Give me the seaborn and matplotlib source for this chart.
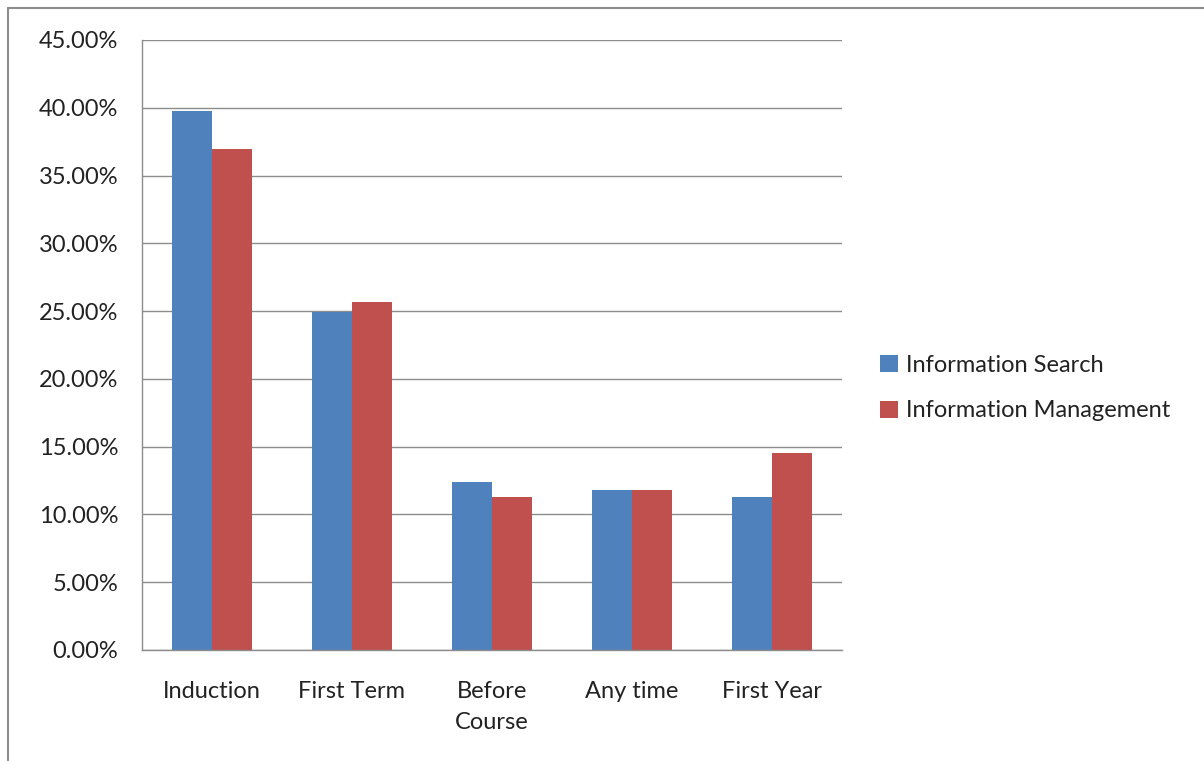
import matplotlib
matplotlib.use("Agg")
import matplotlib.pyplot as plt
import seaborn as sns
import pandas as pd
from matplotlib.ticker import FuncFormatter, FixedLocator
from matplotlib.lines import Line2D

categories = ["Induction", "First Term", "Before\nCourse", "Any time", "First Year"]
series_names = ["Information Search", "Information Management"]
info_search = [39.75, 24.93, 12.39, 11.80, 11.28]
info_mgmt = [36.95, 25.66, 11.28, 11.80, 14.53]
colors = ["#4F81BD", "#C0504D"]

df = pd.DataFrame({
    "category": categories * 2,
    "series": [series_names[0]] * 5 + [series_names[1]] * 5,
    "value": info_search + info_mgmt,
})

sns.set_style("white")
plt.rcParams["font.family"] = ["Lato", "DejaVu Sans"]

fig = plt.figure(figsize=(12.04, 7.61), dpi=100)
W, H = 1204, 761
ax = fig.add_axes([142 / W, 1 - 650 / H, 700 / W, 610 / H])

sns.barplot(data=df, x="category", y="value", hue="series", palette=colors,
            width=80 / 140, saturation=1, ax=ax, legend=True, edgecolor="none")

ax.set_ylim(0, 45)
ax.set_xlim(-0.5, 4.5)
ax.set_yticks([0, 5, 10, 15, 20, 25, 30, 35, 40, 45])
ax.yaxis.set_major_formatter(FuncFormatter(lambda v, p: f"{v:.2f}%"))
ax.grid(axis="y", color="#8C8C8C", linewidth=1.0)
ax.set_axisbelow(True)
ax.set_xlabel("")
ax.set_ylabel("")

for s in ["top", "right"]:
    ax.spines[s].set_visible(False)
for s in ["left", "bottom"]:
    ax.spines[s].set_color("#8C8C8C")
    ax.spines[s].set_linewidth(1.0)

FS = 17
ax.tick_params(axis="y", which="major", length=7, color="#8C8C8C", width=1.0,
               labelsize=FS, labelcolor="#222222", pad=10)
ax.tick_params(axis="x", which="major", length=0, labelsize=FS, labelcolor="#222222", pad=22)
ax.xaxis.set_minor_locator(FixedLocator([-0.5, 0.5, 1.5, 2.5, 3.5, 4.5]))
ax.tick_params(axis="x", which="minor", length=7, color="#8C8C8C", width=1.0, direction="out")
for lbl in ax.get_xticklabels():
    lbl.set_linespacing(1.6)
    lbl.set_va("top")

leg = ax.legend(loc="center left", bbox_to_anchor=(871 / W, 1 - 388 / H),
                bbox_transform=fig.transFigure, frameon=False, fontsize=FS,
                handlelength=0.75, handleheight=0.75, handletextpad=0.35,
                labelspacing=1.05, borderaxespad=0)
for t in leg.get_texts():
    t.set_color("#222222")

# outer chart border
fig.add_artist(Line2D([8 / W, 8 / W], [0, 1 - 8 / H], transform=fig.transFigure,
                      color="#8C8C8C", linewidth=1.5))
fig.add_artist(Line2D([8 / W, 1], [1 - 8 / H, 1 - 8 / H], transform=fig.transFigure,
                      color="#8C8C8C", linewidth=1.5))

fig.savefig("out.png", dpi=100)
